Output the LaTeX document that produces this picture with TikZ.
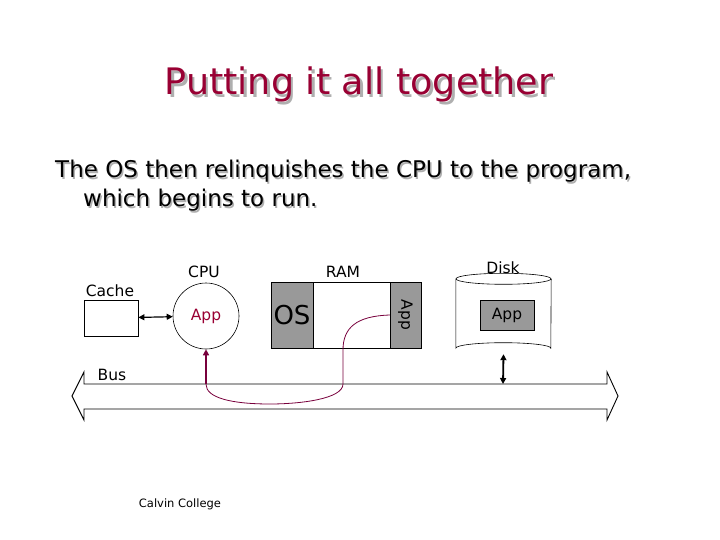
\documentclass[tikz,border=0pt]{standalone}
\usepackage{fontspec}
\setmainfont{DejaVu Sans}
\usetikzlibrary{arrows.meta, positioning, calc}
\definecolor{titlered}{RGB}{153,0,51}
\definecolor{shadowgray}{RGB}{175,175,175}
\definecolor{blockgray}{RGB}{153,153,153}
\definecolor{flowpurple}{RGB}{120,0,60}

\begin{document}
\begin{tikzpicture}[x=1pt, y=-1pt,
  >={Triangle[length=6pt,width=6pt]},
  tag/.style={font=\fontsize{15.5}{18}\selectfont, inner sep=0pt},
  titletext/.style={font=\fontsize{36.5}{40}\selectfont, anchor=base, inner sep=0pt},
  bodytext/.style={font=\fontsize{23}{28}\selectfont, anchor=base west, inner sep=0pt},
  ramcell/.style={draw, line width=0.8pt, minimum height=66pt, outer sep=0pt,
    inner sep=0pt},
  flow/.style={flowpurple, line width=0.8pt},
  bus/.style={draw, line width=0.9pt, line join=miter}
]
\useasboundingbox (0,0) rectangle (720,540);

% title and text, with their shadows
\node[titletext, shadowgray] (titleshadow) at (361.5,97.5) {Putting it all together};
\node[titletext, titlered] (title) at (359,95) {Putting it all together};
\node[bodytext, shadowgray] (lineoneshadow) at (56.5,179.5) {The OS then relinquishes the CPU to the program,};
\node[bodytext] (lineone) at (55,178) {The OS then relinquishes the CPU to the program,};
\node[bodytext, shadowgray] (linetwoshadow) at (84.5,208.5) {which begins to run.};
\node[bodytext] (linetwo) at (83,207) {which begins to run.};

% cache and CPU
\node[draw, line width=0.8pt, minimum width=54pt, minimum height=36pt] (cache) at (111,318) {};
\node[tag] (cachelabel) at (110,291) {Cache};
\node[draw, circle, line width=0.6pt, minimum size=66pt, inner sep=0pt, text=titlered,
  font=\fontsize{15.5}{18}\selectfont] (cpu) at (206,316) {App};
\node[tag] (cpulabel) at (204,272) {CPU};
\draw[<->, line width=1.2pt] (cache) -- (cpu);

% RAM
\node[ramcell, fill=blockgray, minimum width=42pt, font=\fontsize{26}{30}\selectfont] (os) at (292,315) {OS};
\node[ramcell, minimum width=77pt, right=0pt of os] (free) {};
\node[ramcell, fill=blockgray, minimum width=31pt, right=0pt of free] (appcell) {};
\node[tag, rotate=-90] (appram) at (appcell) {App};
\node[tag] (ramlabel) at (343,272) {RAM};

% disk
\node[minimum width=95pt, minimum height=69pt, inner sep=0pt] (disk) at (503.5,313.5) {};
\draw[line width=0.6pt] (disk.north) ellipse [x radius=47.5pt, y radius=5.5pt];
\draw[line width=0.6pt] (disk.north west) -- (disk.south west)
  arc [start angle=180, end angle=360, x radius=47.5pt, y radius=-5.5pt]
  -- (disk.north east);
\node[ramcell, fill=blockgray, minimum width=54pt, minimum height=30pt, tag] (diskapp) at (507,315) {App};
\node[tag] (disklabel) at (503,268) {Disk};

% bus
\draw[bus] (84,384) -- (607,384) -- (607,372) -- (618,396) -- (607,420) -- (607,409)
  -- (84,409) -- (84,420) -- (72,396) -- (84,372) -- cycle;
\node[tag] (buslabel) at (112,375) {Bus};
\coordinate (diskport) at (503,384);
\coordinate (cpuport) at ($(cpu.south)+(0,35)$);
\draw[<->, line width=1.8pt] ($(disk.south)+(0,6)$) -- (diskport);

% program moving from RAM to the CPU
\draw[flow] (appcell.west) .. controls (356,316) and (343,328) .. (343,350) -- (343,384)
  .. controls (343,399) and (300,404) .. (270,404)
  .. controls (232,404) and (206,398) .. (cpuport);
\draw[->, flowpurple, line width=1.8pt] (cpuport) -- (cpu.south);

\node[font=\fontsize{11.5}{14}\selectfont] (footer) at (180,504) {Calvin College};
\end{tikzpicture}
\end{document}
